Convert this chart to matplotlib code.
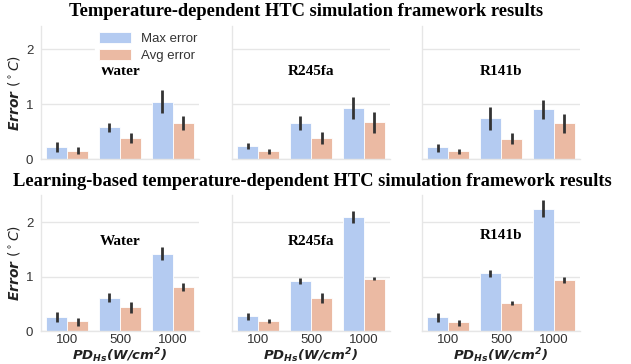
import matplotlib
matplotlib.use("Agg")
import matplotlib.pyplot as plt
import numpy as np

categories = ["100", "500", "1000"]
fluids = ["Water", "R245fa", "R141b"]
row_titles = ["Temperature-dependent HTC simulation framework results",
              "Learning-based temperature-dependent HTC simulation framework results"]

# Row 1 (Temperature-dependent HTC simulation framework)
max_top = {"Water": [0.22, 0.58, 1.04], "R245fa": [0.24, 0.65, 0.92], "R141b": [0.22, 0.74, 0.91]}
max_top_lo = {"Water": [0.13, 0.50, 0.83], "R245fa": [0.18, 0.52, 0.72], "R141b": [0.13, 0.53, 0.73]}
max_top_hi = {"Water": [0.31, 0.65, 1.25], "R245fa": [0.30, 0.79, 1.12], "R141b": [0.28, 0.94, 1.07]}
avg_top = {"Water": [0.145, 0.39, 0.65], "R245fa": [0.15, 0.39, 0.67], "R141b": [0.145, 0.37, 0.66]}
avg_top_lo = {"Water": [0.085, 0.30, 0.53], "R245fa": [0.10, 0.27, 0.48], "R141b": [0.085, 0.27, 0.47]}
avg_top_hi = {"Water": [0.21, 0.48, 0.79], "R245fa": [0.19, 0.49, 0.86], "R141b": [0.18, 0.47, 0.82]}

# Row 2 (Learning-based)
max_bot = {"Water": [0.26, 0.61, 1.415], "R245fa": [0.28, 0.92, 2.10], "R141b": [0.26, 1.06, 2.24]}
max_bot_lo = {"Water": [0.165, 0.53, 1.30], "R245fa": [0.21, 0.87, 1.98], "R141b": [0.17, 0.99, 2.10]}
max_bot_hi = {"Water": [0.35, 0.70, 1.54], "R245fa": [0.33, 0.98, 2.21], "R141b": [0.335, 1.13, 2.41]}
avg_bot = {"Water": [0.18, 0.44, 0.81], "R245fa": [0.18, 0.60, 0.96], "R141b": [0.16, 0.52, 0.93]}
avg_bot_lo = {"Water": [0.10, 0.33, 0.73], "R245fa": [0.146, 0.51, 0.93], "R141b": [0.10, 0.475, 0.88]}
avg_bot_hi = {"Water": [0.24, 0.53, 0.88], "R245fa": [0.22, 0.69, 1.00], "R141b": [0.195, 0.56, 0.99]}

rows = [
    (max_top, max_top_lo, max_top_hi, avg_top, avg_top_lo, avg_top_hi, 2.42),
    (max_bot, max_bot_lo, max_bot_hi, avg_bot, avg_bot_lo, avg_bot_hi, 2.5),
]

blue = "#b4cbf1"
salmon = "#ebbaa3"
grid_c = "#e6e6e6"
sans = ["Liberation Sans", "DejaVu Sans"]

fig = plt.figure(figsize=(6.31, 3.64), dpi=100)
W, H = 631, 364
col_x = [41, 232, 422]
ax_w = 158
row_y = [(26, 159), (195, 331)]

x = np.arange(len(categories))
bw = 0.4
for r, (mv, mlo, mhi, av, alo, ahi, ymax) in enumerate(rows):
    top, bot = row_y[r]
    for c, fl in enumerate(fluids):
        ax = fig.add_axes([col_x[c] / W, 1 - bot / H, ax_w / W, (bot - top) / H])
        m = np.array(mv[fl]); a = np.array(av[fl])
        merr = [m - np.array(mlo[fl]), np.array(mhi[fl]) - m]
        aerr = [a - np.array(alo[fl]), np.array(ahi[fl]) - a]
        ax.bar(x - bw / 2, m, bw, color=blue, label="Max error", zorder=2,
               edgecolor="white", linewidth=0.6)
        ax.bar(x + bw / 2, a, bw, color=salmon, label="Avg error", zorder=2,
               edgecolor="white", linewidth=0.6)
        ax.errorbar(x - bw / 2, m, yerr=merr, fmt="none", ecolor="#333333", elinewidth=2.0, zorder=3)
        ax.errorbar(x + bw / 2, a, yerr=aerr, fmt="none", ecolor="#333333", elinewidth=2.0, zorder=3)
        ax.set_xlim(-0.5, 2.5)
        ax.set_ylim(0, ymax)
        ax.set_yticks([0, 1, 2])
        ax.grid(axis="y", color=grid_c, linewidth=1, zorder=0)
        ax.set_axisbelow(True)
        for s in ["top", "right"]:
            ax.spines[s].set_visible(False)
        for s in ["left", "bottom"]:
            ax.spines[s].set_color(grid_c)
            ax.spines[s].set_linewidth(1)
        ax.tick_params(axis="x", length=0, labelsize=9.5, colors="#333333", pad=2)
        ax.tick_params(axis="y", length=0, labelsize=9.5, colors="#333333", pad=5.5)
        ax.set_xticks(x)
        if r == 1:
            ax.set_xticklabels(categories, family=sans)
            ax.set_xlabel(r"$\mathbfit{PD_{Hs}(W/cm^2)}$", fontsize=9.5, labelpad=0.5, color="#222222")
        else:
            ax.set_xticklabels([])
        if c == 0:
            ax.set_yticklabels(["0", "1", "2"], family=sans)
            ax.set_ylabel(r"Error $(^\circ C)$", fontsize=10, fontweight="bold", style="italic",
                          labelpad=3, color="#222222")
        else:
            ax.set_yticklabels([])
        ty = 0.655 if not (r == 1 and c == 2) else 0.70
        ax.text(0.5, ty, fl, transform=ax.transAxes, ha="center", va="center",
                fontsize=11, fontweight="bold", family="Liberation Serif")
        if r == 0 and c == 0:
            leg = ax.legend(loc="upper left", bbox_to_anchor=(0.3, 1.035),
                            frameon=True, facecolor="white", edgecolor="white", framealpha=1,
                            handlelength=2.4, handleheight=0.9, borderpad=0.3, labelspacing=0.3,
                            prop={"family": sans, "size": 9.5})
            for t in leg.get_texts():
                t.set_color("#333333")
    fig.text(0.485 if r == 0 else 0.495, 1 - (12 if r == 0 else 181) / H, row_titles[r],
             ha="center", va="center", fontsize=13.3, fontweight="bold", family="Liberation Serif")

fig.savefig("out.png", dpi=100)
